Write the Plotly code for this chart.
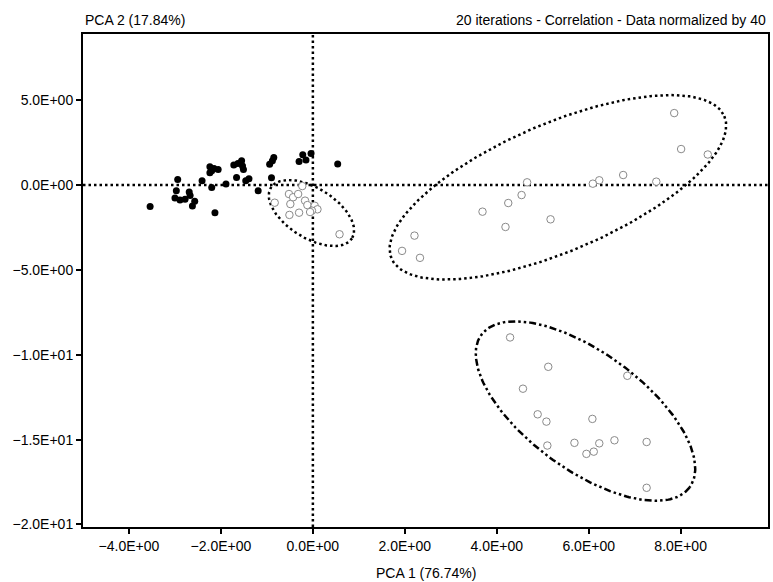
import numpy as np
import plotly.graph_objects as go

# ---- data ----
group_a_x = [-3.54, -2.94, -2.97, -3.00, -2.89, -2.78, -2.69, -2.67, -2.57, -2.62,
             -2.13, -2.41, -2.20, -2.24, -2.20, -2.15, -2.06, -2.24, -1.89, -1.72,
             -1.63, -1.55, -1.53, -1.66, -1.51, -1.46, -1.39, -1.19, -0.85, -0.88,
             -0.94, -0.90, -0.30, -0.22, -0.15, -0.04, 0.54]
group_a_y = [-1.27, 0.33, -0.33, -0.76, -0.88, -0.84, -0.41, -0.61, -0.96, -1.24,
             -1.63, 0.25, -0.14, 1.08, 0.84, 0.98, 0.92, 0.73, 0.06, 1.18,
             1.27, 1.43, 1.12, 0.45, 0.92, 0.25, 0.37, -0.33, 1.63, 1.43,
             1.22, 0.43, 1.39, 1.78, 1.47, 1.86, 1.24]

group_b_x = [-0.23, -0.52, -0.43, -0.32, -0.83, -0.49, -0.17, -0.12, 0.04, 0.10,
             -0.02, -0.06, -0.30, -0.51, 0.58]
group_b_y = [-0.06, -0.53, -0.72, -0.53, -1.04, -1.12, -0.92, -1.18, -1.22, -1.43,
             -1.51, -1.59, -1.63, -1.76, -2.90]

group_c_x = [7.86, 8.01, 8.59, 6.75, 6.23, 6.09, 7.47, 4.66, 4.54, 4.25,
             3.69, 4.19, 5.17, 2.21, 1.94, 2.33]
group_c_y = [4.24, 2.12, 1.80, 0.59, 0.28, 0.08, 0.20, 0.16, -0.59, -1.06,
             -1.57, -2.47, -2.02, -2.98, -3.88, -4.29]

group_d_x = [4.29, 5.12, 4.57, 6.84, 4.89, 5.08, 6.08, 5.10, 5.69, 5.95,
             6.11, 6.23, 6.56, 7.26, 7.26]
group_d_y = [-8.98, -10.71, -12.00, -11.24, -13.51, -13.94, -13.78, -15.35, -15.19, -15.84,
             -15.71, -15.22, -15.04, -15.14, -17.84]

# ellipse parameters: center, major half-vector, minor half-vector (data units)
ell_b_center = (-0.03, -1.65)
ell_b_major = (0.883, -1.49)
ell_b_minor = (-0.287, -1.25)

ell_c_center = (5.33, -0.135)
ell_c_major = (3.62, 4.19)
ell_c_minor = (0.544, -3.46)

ell_d_center = (5.93, -13.32)
ell_d_major = (2.266, -4.49)
ell_d_minor = (-0.751, -2.79)

x_tick_vals = [-4, -2, 0, 2, 4, 6, 8]
x_tick_text = ["\u22124.0E+00", "\u22122.0E+00", "0.0E+00", "2.0E+00", "4.0E+00", "6.0E+00", "8.0E+00"]
y_tick_vals = [5, 0, -5, -10, -15, -20]
y_tick_text = ["5.0E+00", "0.0E+00", "\u22125.0E+00", "\u22121.0E+01", "\u22121.5E+01", "\u22122.0E+01"]

x_title = "PCA 1 (76.74%)"
y_title = "PCA 2 (17.84%)"
subtitle = "20 iterations - Correlation - Data normalized by 40"

FONT = "Liberation Sans, Arial, sans-serif"
FS = 14

def ellipse(center, major, minor, n=240):
    t = np.linspace(0, 2 * np.pi, n)
    xs = center[0] + major[0] * np.cos(t) + minor[0] * np.sin(t)
    ys = center[1] + major[1] * np.cos(t) + minor[1] * np.sin(t)
    return xs, ys

fig = go.Figure()

dot_dash = "2.5px,3px"
for c, mj, mn, dash in [
    (ell_b_center, ell_b_major, ell_b_minor, dot_dash),
    (ell_c_center, ell_c_major, ell_c_minor, dot_dash),
    (ell_d_center, ell_d_major, ell_d_minor, "7px,3px,2.5px,3px,2.5px,3px"),
]:
    ex, ey = ellipse(c, mj, mn)
    fig.add_trace(go.Scatter(x=ex, y=ey, mode="lines",
                             line=dict(color="black", width=2.5, dash=dash),
                             hoverinfo="skip", showlegend=False))

fig.add_trace(go.Scatter(x=group_a_x, y=group_a_y, mode="markers",
                         marker=dict(color="black", size=7, line=dict(width=0)),
                         showlegend=False))
for gx, gy in [(group_b_x, group_b_y), (group_c_x, group_c_y), (group_d_x, group_d_y)]:
    fig.add_trace(go.Scatter(x=gx, y=gy, mode="markers",
                             marker=dict(color="white", size=7.5, symbol="circle",
                                         line=dict(color="#8a8a8a", width=1)),
                             showlegend=False))

# zero reference lines
fig.add_shape(type="line", xref="x", yref="paper", x0=0, x1=0, y0=0, y1=1,
              line=dict(color="black", width=2.5, dash=dot_dash), layer="below")
fig.add_shape(type="line", xref="paper", yref="y", x0=0, x1=1, y0=0, y1=0,
              line=dict(color="black", width=2.5, dash=dot_dash), layer="below")

fig.add_annotation(text=y_title, xref="paper", yref="paper", x=0, y=1,
                   xanchor="left", yanchor="bottom", yshift=4, showarrow=False,
                   font=dict(family=FONT, size=FS, color="black"))
fig.add_annotation(text=subtitle, xref="paper", yref="paper", x=1, y=1,
                   xanchor="right", yanchor="bottom", yshift=4, showarrow=False,
                   font=dict(family=FONT, size=FS, color="black"))
fig.add_annotation(text=x_title, xref="paper", yref="paper", x=0.5, y=0,
                   xanchor="center", yanchor="middle", yshift=-46, showarrow=False,
                   font=dict(family=FONT, size=FS, color="black"))

fig.update_xaxes(range=[-5.0, 9.9], tickvals=x_tick_vals, ticktext=x_tick_text,
                 showgrid=False, zeroline=False, showline=True, linecolor="black",
                 linewidth=2, mirror=True, ticks="outside", ticklen=5, tickwidth=1.5,
                 tickcolor="black", tickfont=dict(family=FONT, size=FS, color="black"))
fig.update_yaxes(range=[-20.15, 8.9], tickvals=y_tick_vals, ticktext=y_tick_text,
                 showgrid=False, zeroline=False, showline=True, linecolor="black",
                 linewidth=2, mirror=True, ticks="outside", ticklen=5, tickwidth=1.5,
                 tickcolor="black", tickfont=dict(family=FONT, size=FS, color="black"))

fig.update_layout(width=773, height=582, margin=dict(l=83, r=3, t=34, b=55),
                  plot_bgcolor="white", paper_bgcolor="white",
                  font=dict(family=FONT, size=FS, color="black"))

fig.write_html("out.html")
